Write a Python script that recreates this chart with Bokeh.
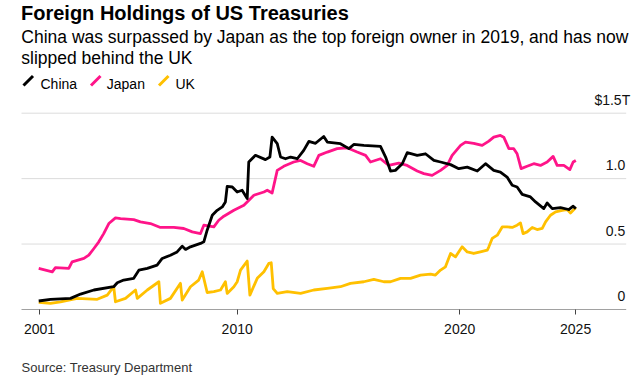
from bokeh.plotting import figure
from bokeh.layouts import column
from bokeh.models import FixedTicker, Label, Arrow
from bokeh.embed import file_html
from bokeh.resources import INLINE

# ---------------- data (US$ trillions) ----------------
china_year = [2001.08, 2001.61, 2002.51, 2002.96, 2003.56, 2004.45, 2004.61, 2004.90, 2005.35, 2005.58,
              2005.96, 2006.40, 2006.63, 2007.00, 2007.30, 2007.53, 2007.68, 2007.90, 2008.35, 2008.50,
              2008.65, 2008.88, 2009.10, 2009.33, 2009.47, 2009.55, 2009.78, 2010.00, 2010.22, 2010.45,
              2010.52, 2010.82, 2011.27, 2011.47, 2011.57, 2011.80, 2011.95, 2012.17, 2012.40, 2012.70,
              2012.99, 2013.22, 2013.52, 2013.89, 2014.05, 2014.64, 2015.02, 2015.24, 2015.69, 2016.44,
              2016.67, 2016.89, 2017.11, 2017.42, 2017.64, 2018.09, 2018.46, 2018.84, 2019.14, 2019.59,
              2019.96, 2020.34, 2020.79, 2021.16, 2021.53, 2021.83, 2022.13, 2022.36, 2022.58, 2022.81,
              2023.18, 2023.41, 2023.78, 2023.93, 2024.16, 2024.53, 2024.90, 2025.10, 2025.22]
china_value = [0.065, 0.078, 0.085, 0.118, 0.149, 0.174, 0.204, 0.225, 0.238, 0.300,
               0.314, 0.339, 0.390, 0.415, 0.440, 0.484, 0.459, 0.479, 0.505, 0.517,
               0.606, 0.720, 0.758, 0.784, 0.822, 0.941, 0.936, 0.898, 0.911, 0.848,
               1.127, 1.178, 1.145, 1.165, 1.317, 1.267, 1.165, 1.152, 1.165, 1.152,
               1.216, 1.284, 1.270, 1.322, 1.279, 1.267, 1.229, 1.261, 1.254, 1.246,
               1.165, 1.058, 1.063, 1.114, 1.198, 1.178, 1.190, 1.139, 1.127, 1.107,
               1.076, 1.088, 1.058, 1.114, 1.063, 1.050, 1.012, 0.949, 0.936, 0.880,
               0.860, 0.822, 0.771, 0.814, 0.771, 0.779, 0.764, 0.789, 0.771]

japan_year = [2001.08, 2001.69, 2001.83, 2002.43, 2002.58, 2003.11, 2003.33, 2003.56, 2003.78, 2004.00,
              2004.23, 2004.53, 2004.76, 2005.35, 2005.65, 2006.10, 2006.55, 2007.15, 2007.60, 2007.98,
              2008.35, 2008.50, 2008.95, 2009.17, 2009.40, 2009.85, 2010.30, 2010.75, 2011.20, 2011.35,
              2011.57, 2011.80, 2012.09, 2012.54, 2012.85, 2013.15, 2013.44, 2013.67, 2014.05, 2014.49,
              2014.94, 2015.39, 2015.77, 2015.99, 2016.44, 2016.81, 2017.26, 2017.64, 2018.09, 2018.39,
              2018.76, 2019.14, 2019.44, 2019.66, 2020.04, 2020.26, 2020.63, 2021.01, 2021.31, 2021.53,
              2021.83, 2021.98, 2022.21, 2022.43, 2022.58, 2022.76, 2023.03, 2023.33, 2023.63, 2023.93,
              2024.20, 2024.38, 2024.68, 2024.95, 2025.10, 2025.22]
japan_value = [0.314, 0.288, 0.320, 0.314, 0.364, 0.390, 0.415, 0.466, 0.517, 0.580,
               0.657, 0.700, 0.695, 0.687, 0.670, 0.657, 0.627, 0.627, 0.619, 0.593,
               0.580, 0.644, 0.631, 0.682, 0.713, 0.758, 0.796, 0.873, 0.898, 0.911,
               0.890, 1.063, 1.094, 1.127, 1.139, 1.114, 1.094, 1.178, 1.203, 1.229,
               1.236, 1.203, 1.178, 1.127, 1.152, 1.101, 1.119, 1.101, 1.058, 1.038,
               1.025, 1.063, 1.101, 1.178, 1.254, 1.279, 1.270, 1.254, 1.287, 1.317,
               1.330, 1.317, 1.229, 1.229, 1.190, 1.076, 1.094, 1.114, 1.101, 1.127,
               1.170, 1.101, 1.101, 1.069, 1.127, 1.139]

uk_year = [2001.08, 2001.61, 2002.06, 2002.81, 2003.71, 2004.16, 2004.45, 2004.53, 2004.98, 2005.43,
           2005.51, 2005.96, 2006.48, 2006.55, 2007.00, 2007.45, 2007.53, 2007.90, 2008.27, 2008.43,
           2008.65, 2008.95, 2009.25, 2009.47, 2009.55, 2009.85, 2010.00, 2010.15, 2010.45, 2010.57,
           2010.90, 2011.20, 2011.42, 2011.53, 2011.62, 2011.80, 2012.25, 2012.85, 2013.44, 2014.05,
           2014.64, 2015.09, 2015.69, 2016.14, 2016.59, 2016.89, 2017.34, 2017.79, 2018.24, 2018.69,
           2018.91, 2019.14, 2019.36, 2019.59, 2019.81, 2020.11, 2020.34, 2020.63, 2020.93, 2021.24,
           2021.31, 2021.46, 2021.69, 2021.91, 2022.13, 2022.36, 2022.58, 2022.73, 2022.85, 2023.03,
           2023.26, 2023.48, 2023.71, 2023.86, 2024.08, 2024.31, 2024.61, 2024.83, 2024.98, 2025.22]
uk_value = [0.055, 0.047, 0.059, 0.085, 0.078, 0.110, 0.174, 0.059, 0.085, 0.149,
            0.085, 0.149, 0.212, 0.047, 0.085, 0.200, 0.072, 0.174, 0.225, 0.288,
            0.130, 0.136, 0.149, 0.212, 0.123, 0.174, 0.212, 0.301, 0.370, 0.110,
            0.238, 0.288, 0.352, 0.357, 0.160, 0.123, 0.136, 0.123, 0.149, 0.161,
            0.174, 0.200, 0.212, 0.230, 0.212, 0.212, 0.238, 0.238, 0.263, 0.271,
            0.263, 0.301, 0.326, 0.428, 0.402, 0.479, 0.440, 0.428, 0.440, 0.453,
            0.479, 0.543, 0.568, 0.631, 0.631, 0.627, 0.644, 0.662, 0.580, 0.593,
            0.627, 0.611, 0.619, 0.669, 0.720, 0.746, 0.758, 0.764, 0.738, 0.779]

series_names = ["China", "Japan", "UK"]
x_tick_positions = [2001.115, 2010.0, 2020.0, 2025.21]
x_tick_labels = ["2001", "2010", "2020", "2025"]
y_tick_values = [0.0, 0.5, 1.0, 1.5]
y_tick_labels = ["0", "0.5", "1.0", "$1.5T"]

title_text = "Foreign Holdings of US Treasuries"
subtitle_lines = ["China was surpassed by Japan as the top foreign owner in 2019, and has now",
                  "slipped behind the UK"]
source_text = "Source: Treasury Department"

# ---------------- style / geometry ----------------
FONT = "Liberation Sans"
colors = {"China": "#000000", "Japan": "#FF1489", "UK": "#FFC000"}
X0, X1 = 1999.362, 2028.171          # frame spans the full figure width
AX0, AX1 = 2000.306, 2027.483        # extent of gridlines / baseline
Y1 = 2.361                           # frame top = figure top (room for the header)

p = figure(width=641, height=345, x_range=(X0, X1), y_range=(0, Y1),
           min_border_left=0, min_border_right=0, min_border_top=0, min_border_bottom=36,
           y_axis_location=None, toolbar_location=None, output_backend="svg")
p.outline_line_color = None
p.background_fill_color = "white"
p.border_fill_color = "white"
p.xgrid.visible = False
p.ygrid.visible = False

# horizontal gridlines and baseline
grid_vals = y_tick_values[1:]
p.segment(x0=[AX0] * len(grid_vals), x1=[AX1] * len(grid_vals), y0=grid_vals, y1=grid_vals,
          line_color="#dcdcdc", line_width=1)
p.segment(x0=[AX0], x1=[AX1], y0=[y_tick_values[0]], y1=[y_tick_values[0]],
          line_color="#444444", line_width=1)

ax = p.xaxis[0]
ax.ticker = FixedTicker(ticks=x_tick_positions)
ax.major_label_overrides = {pos: lab for pos, lab in zip(x_tick_positions, x_tick_labels)}
ax.minor_tick_line_color = None
ax.axis_line_color = None
ax.major_tick_in = 0
ax.major_tick_out = 5
ax.major_tick_line_color = "#444444"
ax.major_label_text_font = FONT
ax.major_label_text_font_size = "14px"
ax.major_label_text_color = "#111111"
ax.major_label_standoff = 9

# series lines (UK first, China on top)
p.line(uk_year, uk_value, line_color=colors["UK"], line_width=2.8, line_join="round")
p.line(japan_year, japan_value, line_color=colors["Japan"], line_width=2.8, line_join="round")
p.line(china_year, china_value, line_color=colors["China"], line_width=2.8, line_join="round")

# y labels, right-aligned above their gridlines
for v, lab in zip(y_tick_values, y_tick_labels):
    xoff = 4 if lab.startswith("$") else -1
    p.add_layout(Label(x=AX1, y=v, text=lab, text_align="right", text_baseline="alphabetic",
                       x_offset=xoff, y_offset=13.5, text_font=FONT, text_font_size="14px",
                       text_color="#111111"))

# header (screen units from the frame's lower-left corner = page (0, 309))
p.add_layout(Label(x=20.5, y=297, x_units="screen", y_units="screen", text=title_text,
                   text_font=FONT, text_font_style="bold", text_font_size="20px",
                   text_color="#000000", text_baseline="alphabetic"))
for i, line in enumerate(subtitle_lines):
    p.add_layout(Label(x=20.8, y=272.8 - 21.6 * i, x_units="screen", y_units="screen", text=line,
                       text_font=FONT, text_font_size="17.5px", text_color="#000000",
                       text_baseline="alphabetic"))

legend_text_x = [40.0, 106.3, 175.0]
legend_slash_x = [23.0, 90.5, 158.5]
for name, tx, sx in zip(series_names, legend_text_x, legend_slash_x):
    p.add_layout(Arrow(x_start=sx, y_start=224, x_end=sx + 9.5, y_end=233.5,
                       start_units="screen", end_units="screen", end=None,
                       line_color=colors[name], line_width=3, line_cap="butt"))
    p.add_layout(Label(x=tx, y=226, x_units="screen", y_units="screen", text=name,
                       text_font=FONT, text_font_size="14px", text_color="#000000",
                       text_baseline="alphabetic"))

# footer with the source note
foot = figure(width=641, height=34, x_range=(0, 641), y_range=(0, 34),
              min_border_left=0, min_border_right=0, min_border_top=0, min_border_bottom=0,
              x_axis_location=None, y_axis_location=None,
              toolbar_location=None, output_backend="svg")
foot.outline_line_color = None
foot.xgrid.visible = False
foot.ygrid.visible = False
foot.add_layout(Label(x=21, y=12, x_units="screen", y_units="screen", text=source_text,
                      text_font=FONT, text_font_size="13px", text_color="#333333",
                      text_baseline="alphabetic"))

layout = column(p, foot, spacing=0)
open("out.html", "w").write(file_html(layout, INLINE))
